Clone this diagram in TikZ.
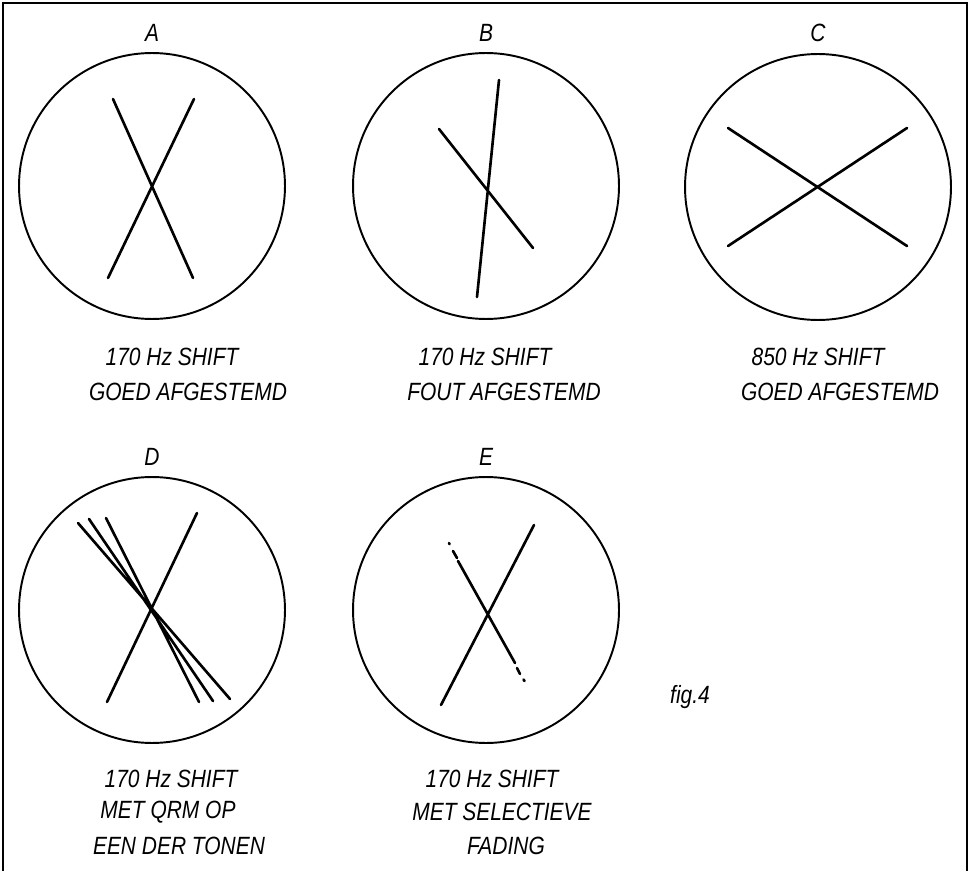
\documentclass[tikz,border=0pt]{standalone}
\usepackage{fontspec}
\newfontfamily\lettering[FakeStretch=0.84]{Liberation Sans}
\begin{document}
\begin{tikzpicture}[x=.02cm, y=-.02cm, every node/.style={font=\lettering\itshape\fontsize{14.2}{16}\selectfont, inner sep=0pt},
  screen/.style={line width=1.1pt}, trace/.style={line width=1.5pt, line cap=round}]
  \useasboundingbox (0,0) rectangle (973,871);
  \draw[line width=1.2pt] (3,871)--(3,3)--(967,3)--(967,871);
  \coordinate (A) at (152,186); \coordinate (B) at (486,186); \coordinate (C) at (818,187);
  \coordinate (D) at (152,610); \coordinate (E) at (486,610);
  \foreach \s in {A,B,C,D,E}
    \draw[screen] (\s) circle[radius=2.66cm];
  % A: good tuning
  \draw[trace] (113,99)--(193,278) (194,99)--(108,278);
  % B: wrong tuning
  \draw[trace] (499,80)--(477,297) (439,129)--(533,248);
  % C: 850 Hz
  \draw[trace] (728,128)--(907,246) (907,128)--(728,246);
  % D: QRM
  \draw[trace] (197,513)--(107,702) (78,523)--(230,699) (89,519)--(213,701) (106,518)--(199,702);
  % E: fading
  \draw[trace] (534,525)--(441,705) (458,561)--(515,663);
  \draw[trace] (449,543)--(449.6,544.2) (453,551)--(457,558) (517,668)--(520,674) (523.5,679.5)--(524.5,681);
  \foreach \s/\x/\y in {A/152/33,B/486/33,C/818/33,D/152/457,E/486/457}
    \node (l\s) at (\x,\y) {\s};
  \foreach \n/\x/\y/\t in {a1/172/357/170 Hz SHIFT, a2/188/392/GOED AFGESTEMD,
      b1/485/357/170 Hz SHIFT, b2/504/392/FOUT AFGESTEMD,
      c1/818/357/850 Hz SHIFT, c2/840/392/GOED AFGESTEMD,
      d1/171/779/170 Hz SHIFT, d2/168/812/MET QRM OP, d3/179/846/EEN DER TONEN,
      e1/492/779/170 Hz SHIFT, e2/502/812/MET SELECTIEVE, e3/506/846/FADING}
    \node (\n) at (\x,\y) {\t};
  \node (fig) at (690,697) {fig.4};
\end{tikzpicture}
\end{document}
